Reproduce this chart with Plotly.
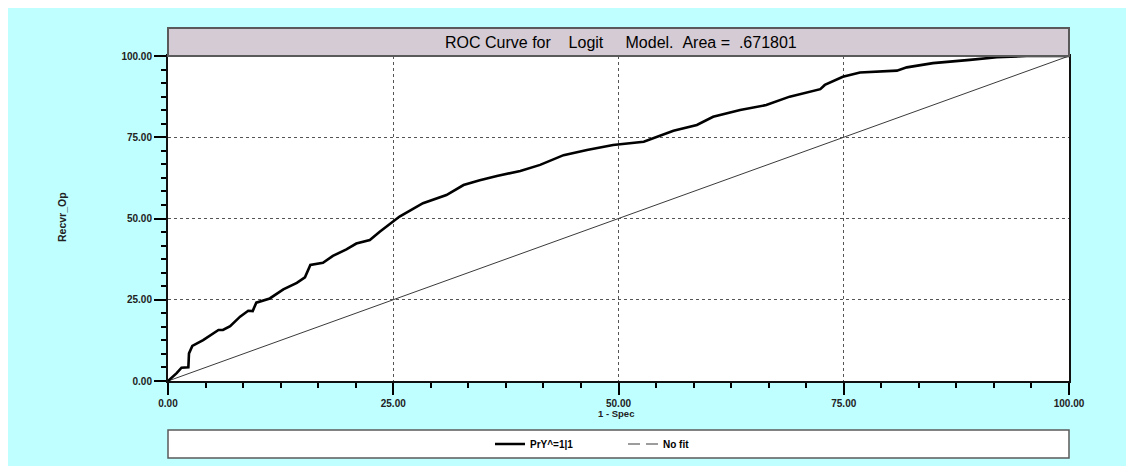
import plotly.graph_objects as go

# ROC curve (1 - Spec, Recvr_Op)
spec1 = [0, 0.96, 1.5, 2.26, 2.33, 2.7, 3.9, 5.6, 6.1, 6.9, 8.0, 8.9, 9.4, 9.8, 11.3, 12.8,
         14.3, 15.2, 15.8, 16.5, 17.2, 18.3, 19.8, 20.9, 22.4, 23.5, 25.7, 28.3, 30.9, 32.8,
         34.6, 36.5, 39.1, 41.3, 43.9, 46.5, 49.4, 52.8, 54.6, 56.1, 58.7, 60.5, 63.5, 66.4,
         69.0, 72.0, 72.4, 72.9, 74.9, 76.8, 80.9, 82.0, 84.9, 89.0, 92.0, 95.3, 100]
recvr = [0, 2.4, 4.1, 4.2, 8.5, 10.8, 12.6, 15.7, 15.7, 16.9, 19.8, 21.6, 21.5, 24.1, 25.4, 28.2,
         30.2, 31.9, 35.7, 36.0, 36.4, 38.5, 40.5, 42.3, 43.4, 45.9, 50.6, 54.7, 57.2, 60.3,
         61.8, 63.1, 64.6, 66.5, 69.5, 71.1, 72.6, 73.6, 75.4, 77.0, 78.8, 81.3, 83.4, 84.9,
         87.5, 89.5, 89.8, 91.1, 93.6, 94.9, 95.5, 96.5, 97.8, 98.8, 99.6, 100, 100]
nofit_x = [0, 100]
nofit_y = [0, 100]
tick_vals = [0, 25, 50, 75, 100]
tick_text = ["0.00", "25.00", "50.00", "75.00", "100.00"]
NB = "\u00a0"
title_text = "ROC Curve for" + NB * 4 + "Logit" + NB * 5 + "Model." + NB * 2 + "Area =" + NB * 2 + ".671801"
series_names = ["PrY^=1|1", "No fit"]

# page is offset by the 8px body margin
W, H = 1126, 458
L, R, T, B = 160, 65, 48, 85
PLOT_TOP, PLOT_BOT, PLOT_L, PLOT_R = 56, 381, 168, 1069  # page pixels of reference

def py(pix):
    return (PLOT_BOT - pix) / (PLOT_BOT - PLOT_TOP)

def px(pix):
    return (pix - PLOT_L) / (PLOT_R - PLOT_L)

fig = go.Figure()
fig.add_trace(go.Scatter(x=nofit_x, y=nofit_y, mode="lines", showlegend=False,
                         line=dict(color="#3a3a3a", width=1), hoverinfo="skip"))
fig.add_trace(go.Scatter(x=spec1, y=recvr, mode="lines", name="<b>" + series_names[0] + "</b>",
                         line=dict(color="black", width=2.6)))
fig.add_trace(go.Scatter(x=[None], y=[None], mode="lines", name="<b>" + series_names[1] + "</b>",
                         line=dict(color="#3a3a3a", width=1, dash="12px,6px")))

shapes = [
    dict(type="rect", xref="paper", yref="paper", x0=0, x1=1, y0=0, y1=1,
         fillcolor="white", line=dict(width=0), layer="below"),
    dict(type="rect", xref="paper", yref="paper", x0=0, x1=1, y0=1, y1=py(28),
         fillcolor="#d5cbd4", line=dict(color="#5a5a5a", width=2)),
    dict(type="rect", xref="paper", yref="paper", x0=0, x1=1, y0=py(458), y1=py(430),
         fillcolor="white", line=dict(color="#5a5a5a", width=1.5), layer="below"),
]

fig.update_layout(
    width=W, height=H,
    margin=dict(l=L, r=R, t=T, b=B, pad=0, autoexpand=False),
    paper_bgcolor="#c0ffff",
    plot_bgcolor="rgba(0,0,0,0)",
    shapes=shapes,
    showlegend=True,
    legend=dict(orientation="h", x=px(490), xanchor="left", y=py(444), yanchor="middle",
                bgcolor="rgba(0,0,0,0)",
                font=dict(family="Liberation Sans, Arial", size=10, color="black"),
                itemwidth=30, entrywidth=88),
    annotations=[
        dict(text=title_text, xref="paper", yref="paper", x=px(621), y=py(42), xanchor="center",
             yanchor="middle", showarrow=False,
             font=dict(family="Liberation Sans, Arial", size=16, color="black")),
        dict(text="<b>1 - Spec</b>", xref="paper", yref="paper", x=px(616), y=py(413), xanchor="center",
             yanchor="middle", showarrow=False,
             font=dict(family="Liberation Sans, Arial", size=9.5, color="#222")),
        dict(text="<b>Recvr_Op</b>", xref="paper", yref="paper", x=px(62), y=py(217), xanchor="center",
             yanchor="middle", showarrow=False, textangle=-90,
             font=dict(family="Liberation Sans, Arial", size=10.5, color="#222")),
    ],
)

axis_common = dict(
    range=[0, 100], tickmode="array", tickvals=tick_vals, ticktext=tick_text,
    ticks="outside", ticklen=12, tickwidth=1.5, tickcolor="black",
    tickfont=dict(family="Liberation Sans, Arial", size=10, color="#222", weight="bold"),
    showgrid=True, gridcolor="#555555", gridwidth=1, griddash="3px,3px",
    showline=True, linecolor="#111111", linewidth=2, mirror=True,
    zeroline=False, fixedrange=True, automargin=False,
    minor=dict(dtick=25 / 6, tick0=0, ticks="outside", ticklen=5, tickwidth=1.5,
               tickcolor="black", showgrid=False),
)
fig.update_xaxes(**axis_common)
fig.update_yaxes(**axis_common)

fig.write_html("out.html")
